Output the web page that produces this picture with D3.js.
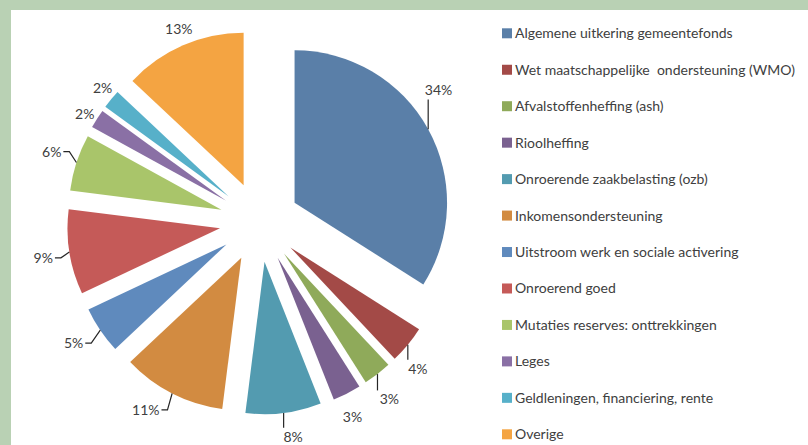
<!DOCTYPE html>
<html>
<head>
<meta charset="utf-8">
<script src="https://cdn.jsdelivr.net/npm/d3@7"></script>
<style>
  body { margin: 0; background: #b9d1b4; }
  svg { display: block; }
  text { font-family: Lato, "Open Sans", sans-serif; fill: #404040; white-space: pre; }
</style>
</head>
<body>
<div id="chart"></div>
<script>
// categories and their share (%) of the total, clockwise from 12 o'clock
const categories = [
  "Algemene uitkering gemeentefonds",
  "Wet maatschappelijke  ondersteuning (WMO)",
  "Afvalstoffenheffing (ash)",
  "Rioolheffing",
  "Onroerende zaakbelasting (ozb)",
  "Inkomensondersteuning",
  "Uitstroom werk en sociale activering",
  "Onroerend goed",
  "Mutaties reserves: onttrekkingen",
  "Leges",
  "Geldleningen, financiering, rente",
  "Overige"
];
const shares = [34, 4, 3, 3, 8, 11, 5, 9, 6, 2, 2, 13];
const colours = ["#5a7fa8", "#a34a47", "#8faa5a", "#7a6190", "#539bb0", "#d28b41",
                 "#5f8abd", "#c55a58", "#a9c56a", "#8a70a5", "#57b0c9", "#f4a442"];

// labels were dragged by hand in the original: [angle shift deg, extra distance px]
const labelNudge = [[-7.5, 11.5], [3.2, 8.5], [1.6, 13], [1.5, 10], [-1.7, 13.5], [4.2, 11],
                    [1.1, 14.5], [-0.4, 13], [0.7, 12.5], [-0.7, -2], [0.9, -1], [0.7, 2]];
const hasLeader = [1, 1, 1, 0, 1, 1, 1, 1, 1, 0, 0, 0];

const width = 808, height = 445;
const radius = 152.5, explode = 40;
const cx = 259.5, cy = 222;

const svg = d3.select("#chart").append("svg")
  .attr("width", width)
  .attr("height", height);

svg.append("rect").attr("width", width).attr("height", height).attr("fill", "#b9d1b4");
svg.append("rect").attr("x", 11).attr("y", 10).attr("width", width - 11).attr("height", height - 10).attr("fill", "#fff");

const pie = d3.pie().sort(null).value(d => d);
const arcs = pie(shares);
const arc = d3.arc().innerRadius(0).outerRadius(radius);

const g = svg.append("g").attr("transform", "translate(" + cx + "," + cy + ")");

function mid(d) { return (d.startAngle + d.endAngle) / 2; }

g.selectAll("path.slice")
  .data(arcs)
  .join("path")
  .attr("class", "slice")
  .attr("d", arc)
  .attr("fill", (d, i) => colours[i])
  .attr("transform", d => {
    const a = mid(d);
    return "translate(" + Math.sin(a) * explode + "," + (-Math.cos(a) * explode) + ")";
  });

// percentage labels
const fontSize = 14;
const leaders = g.append("g");
arcs.forEach((d, i) => {
  const txt = g.append("text")
    .attr("text-anchor", "middle")
    .attr("dy", "0.35em")
    .style("font-size", fontSize + "px")
    .text(Math.round(d.value) + "%");
  const w = txt.node().getComputedTextLength();
  const h = fontSize;
  const a = mid(d) + labelNudge[i][0] * Math.PI / 180;
  const sx = Math.sin(a), sy = -Math.cos(a);
  const he = Math.abs(sx) * w / 2 + Math.abs(sy) * h / 2;
  const dist = radius + explode + 3 + he + labelNudge[i][1];
  const lx = sx * dist, ly = sy * dist;
  txt.attr("x", lx).attr("y", ly);

  if (hasLeader[i]) {
    const a0 = mid(d);
    const px = Math.sin(a0) * (radius + explode), py = -Math.cos(a0) * (radius + explode);
    const x0 = lx - w / 2, x1 = lx + w / 2, y0 = ly - h / 2, y1 = ly + h / 2;
    let pts;
    if (px >= x0 - 3 && px <= x1 + 3) {
      pts = [[px, py], [px, py < y0 ? y0 - 2 : y1 + 2]];
    } else if (px > x1) {
      pts = [[px, py], [x1 + 8, ly], [x1 + 2, ly]];
    } else {
      pts = [[px, py], [x0 - 8, ly], [x0 - 2, ly]];
    }
    leaders.append("path")
      .attr("d", d3.line()(pts))
      .attr("fill", "none")
      .attr("stroke", "#262626")
      .attr("stroke-width", 1.2);
  }
});

// legend
const y = d3.scalePoint().domain(categories).range([33.3, 434.3]);
const legend = svg.append("g");
const item = legend.selectAll("g")
  .data(categories)
  .join("g")
  .attr("transform", d => "translate(502," + y(d) + ")");
item.append("rect")
  .attr("x", 0).attr("y", -5)
  .attr("width", 10).attr("height", 10)
  .attr("fill", (d, i) => colours[i]);
item.append("text")
  .attr("x", 13).attr("y", 5)
  .style("font-size", "14px")
  .text(d => d);
</script>
</body>
</html>
